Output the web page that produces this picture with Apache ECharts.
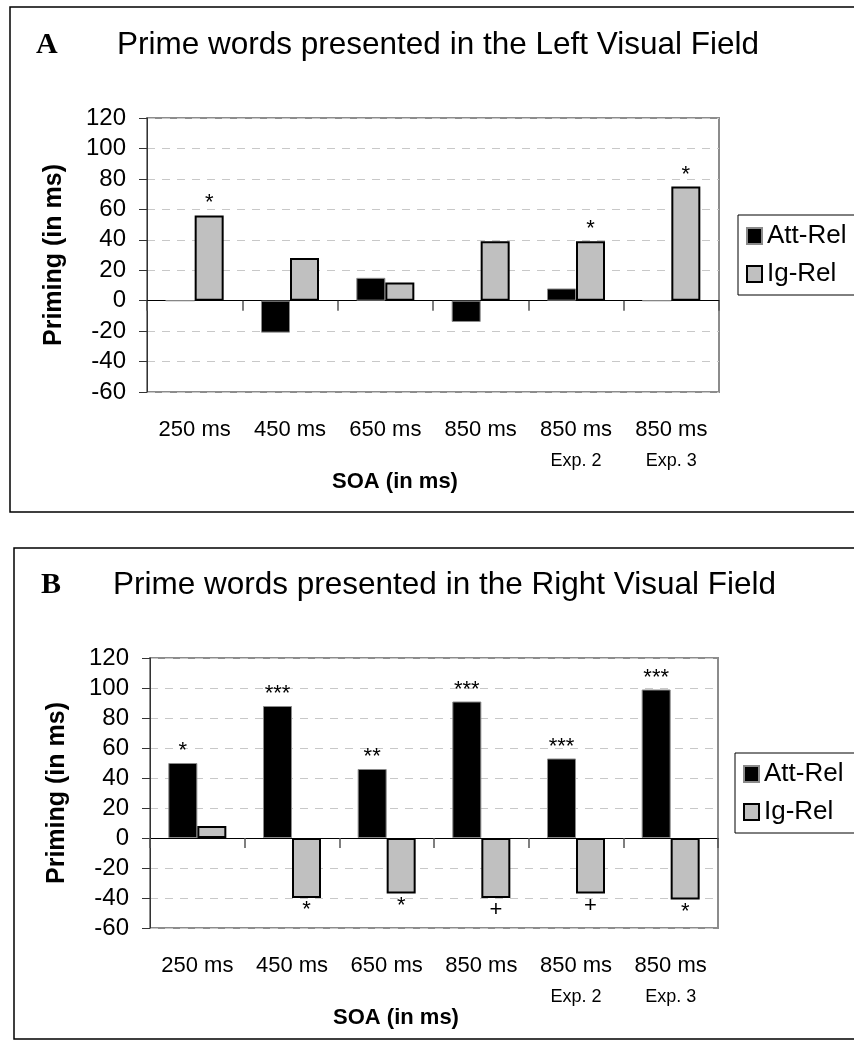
<!DOCTYPE html>
<html><head><meta charset="utf-8">
<script src="https://cdn.jsdelivr.net/npm/echarts@6/dist/echarts.min.js"></script>
<style>html,body{margin:0;padding:0;background:#fff}#c{width:854px;height:1048px}</style>
</head><body><div id="c"></div>
<script>
// ---- data ----
const categories = ['250 ms', '450 ms', '650 ms', '850 ms', '850 ms', '850 ms'];
const subLabels = ['', '', '', '', 'Exp. 2', 'Exp. 3'];
const yMin = -60, yMax = 120, yInterval = 20;
const seriesNames = ['Att-Rel', 'Ig-Rel'];

const leftAtt = [0, -21, 15, -14, 8, 0];
const leftIg = [56, 28, 12, 39, 39, 75];
const leftAttSig = ['', '', '', '', '', ''];
const leftIgSig = ['*', '', '', '', '*', '*'];

const rightAtt = [50, 88, 46, 91, 53, 99];
const rightIg = [8, -40, -37, -40, -37, -41];
const rightAttSig = ['*', '***', '**', '***', '***', '***'];
const rightIgSig = ['', '*', '*', '+', '+', '*'];

const panelLetters = ['A', 'B'];
const panelTitles = ['Prime words presented in the Left Visual Field',
                     'Prime words presented in the Right Visual Field'];
const yAxisName = 'Priming (in ms)';
const xAxisName = 'SOA (in ms)';

// ---- layout ----
const FONT = '"Liberation Sans", Arial, Helvetica, sans-serif';
const panels = [
  { att: leftAtt, ig: leftIg, attSig: leftAttSig, igSig: leftIgSig,
    grid: { left: 147, top: 118, width: 572, height: 274 },
    legend: { left: 738, top: 215 },
    frame: { x: 10, y: 7, h: 505 }, titleY: 45, letterX: 36, titleX: 117 },
  { att: rightAtt, ig: rightIg, attSig: rightAttSig, igSig: rightIgSig,
    grid: { left: 150, top: 658, width: 568, height: 270 },
    legend: { left: 735, top: 753 },
    frame: { x: 14, y: 548, h: 491 }, titleY: 585, letterX: 41, titleX: 113 }
];

const grids = [], xAxes = [], yAxes = [], series = [], legends = [], graphics = [];

function mkData(vals, sig) {
  return vals.map((v, i) => ({
    value: v,
    label: {
      show: !!sig[i], formatter: sig[i],
      position: v >= 0 ? 'top' : 'bottom', distance: 1,
      fontSize: 22, fontFamily: FONT, color: '#000'
    }
  }));
}

panels.forEach((p, k) => {
  grids.push(Object.assign({ show: true, borderColor: '#8c8c8c', borderWidth: 2, backgroundColor: '#fff' }, p.grid));
  // axis through zero with ticks
  xAxes.push({
    type: 'category', gridIndex: k, data: categories, position: 'bottom',
    axisLine: { onZero: true, lineStyle: { color: '#000', width: 1 } },
    axisTick: { show: true, length: 10, lineStyle: { color: '#555', width: 1.5 } },
    axisLabel: { show: false }, splitLine: { show: false }
  });
  // bottom label axis
  xAxes.push({
    type: 'category', gridIndex: k, data: categories, position: 'bottom',
    axisLine: { show: false, onZero: false }, axisTick: { show: false },
    axisLabel: {
      margin: 24, interval: 0,
      formatter: (v, i) => '{m|' + v + '}' + (subLabels[i] ? '\n{e|' + subLabels[i] + '}' : ''),
      rich: {
        m: { fontSize: 22, fontFamily: FONT, color: '#000', lineHeight: 28, align: 'center' },
        e: { fontSize: 18, fontFamily: FONT, color: '#000', lineHeight: 34, align: 'center' }
      }
    },
    name: xAxisName, nameLocation: 'middle', nameGap: 69,
    nameTextStyle: { fontSize: 22, fontWeight: 'bold', fontFamily: FONT, color: '#000', padding: [0, 76, 0, 0] }
  });
  yAxes.push({
    type: 'value', gridIndex: k, min: yMin, max: yMax, interval: yInterval,
    axisLine: { show: true, lineStyle: { color: '#333', width: 1 } },
    axisTick: { show: true, length: 8, lineStyle: { color: '#333' } },
    axisLabel: { fontSize: 24, fontFamily: FONT, color: '#000', margin: 21 },
    splitLine: { show: true, lineStyle: { color: '#c8c8c8', type: [8, 7], width: 1 } },
    name: yAxisName, nameLocation: 'middle', nameGap: 80, nameRotate: 90,
    nameTextStyle: { fontSize: 25, fontWeight: 'bold', fontFamily: FONT, color: '#000' }
  });
  series.push({
    name: seriesNames[0], type: 'bar', xAxisIndex: 2 * k, yAxisIndex: k,
    data: mkData(p.att, p.attSig), barWidth: 29, barGap: '0%',
    itemStyle: { color: '#000', borderColor: '#8a8a8a', borderWidth: 1 },
    emphasis: { disabled: true }, animation: false, z: 3
  });
  series.push({
    name: seriesNames[1], type: 'bar', xAxisIndex: 2 * k, yAxisIndex: k,
    data: mkData(p.ig, p.igSig), barWidth: 29, barGap: '0%',
    itemStyle: { color: '#c0c0c0', borderColor: '#000', borderWidth: 2 },
    emphasis: { disabled: true }, animation: false, z: 3
  });
  legends.push({
    left: p.legend.left, top: p.legend.top, orient: 'vertical', data: seriesNames,
    borderColor: '#000', borderWidth: 1, padding: [8, 60, 8, 8],
    itemWidth: 15, itemHeight: 16, itemGap: 12, icon: 'rect', selectedMode: false,
    textStyle: { fontSize: 26, fontFamily: FONT, color: '#000' }
  });
  graphics.push({
    type: 'rect', shape: { x: p.frame.x, y: p.frame.y, width: 900, height: p.frame.h },
    style: { fill: 'none', stroke: '#000', lineWidth: 1.5 }, z: -10
  });
  graphics.push({
    type: 'text', x: p.letterX, y: p.titleY,
    style: { text: panelLetters[k], font: 'bold 30px "Liberation Serif", "Times New Roman", serif', fill: '#000', verticalAlign: 'middle' }
  });
  graphics.push({
    type: 'text', x: p.titleX, y: p.titleY,
    style: { text: panelTitles[k], font: '31.5px ' + FONT, fill: '#000', verticalAlign: 'middle' }
  });
});

const chart = echarts.init(document.getElementById('c'), null, { renderer: 'canvas' });
chart.setOption({
  animation: false,
  backgroundColor: '#fff',
  grid: grids, xAxis: xAxes, yAxis: yAxes, series: series, legend: legends,
  graphic: graphics, tooltip: { show: false }
});
</script>
</body></html>
